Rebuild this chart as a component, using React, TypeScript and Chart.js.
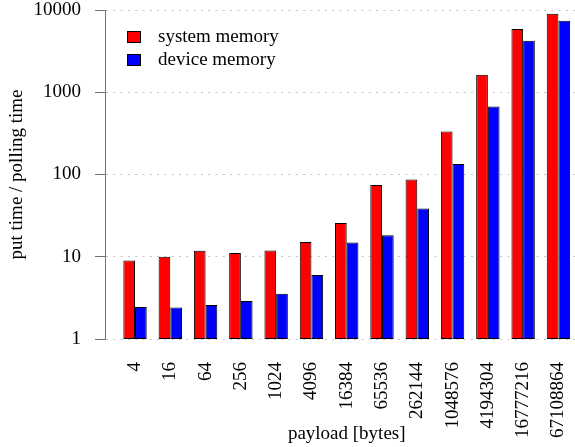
import { useEffect, useRef } from "react";
import { Chart, registerables } from "chart.js";

Chart.register(...registerables);

// Payload sizes on the x axis (one group of bars per size)
const payloadSizes = [
  "4", "16", "64", "256", "1024", "4096", "16384", "65536",
  "262144", "1048576", "4194304", "16777216", "67108864",
];

// Ratio of put time to polling time for each payload size
const systemMemory = [9.0, 10.0, 11.8, 11.1, 11.9, 15.1, 25.7, 74.5, 87, 334, 1634, 5875, 9020];
const deviceMemory = [2.45, 2.42, 2.59, 2.9, 3.55, 6.0, 14.9, 18.2, 38.7, 134, 673, 4233, 7410];

const seriesNames = ["system memory", "device memory"];
const seriesColors = ["#ff0000", "#0000ff"];
const yTickValues = [1, 10, 100, 1000, 10000];
const yTitle = "put time / polling time";
const xTitle = "payload [bytes]";

const FONT = "'Liberation Serif', 'Times New Roman', serif";
const WIDTH = 575;
const HEIGHT = 447;

// Legend box in the upper-left corner of the plot area
const seriesKey = {
  id: "seriesKey",
  afterDraw(chart: any) {
    const { ctx, chartArea } = chart;
    ctx.save();
    ctx.font = `19px ${FONT}`;
    ctx.textBaseline = "middle";
    ctx.textAlign = "left";
    chart.data.datasets.forEach((ds: any, i: number) => {
      const boxX = chartArea.left + 22;
      const boxY = chartArea.top + 21 + i * 23;
      ctx.fillStyle = ds.backgroundColor;
      ctx.fillRect(boxX, boxY, 14, 12);
      ctx.strokeStyle = "#000";
      ctx.lineWidth = 1;
      ctx.strokeRect(boxX + 0.5, boxY + 0.5, 13, 11);
      ctx.fillStyle = "#000";
      ctx.fillText(ds.label, chartArea.left + 53, boxY + 6.5);
    });
    ctx.restore();
  },
};

// X axis title, centred under the middle group of bars
const xAxisTitle = {
  id: "xAxisTitle",
  afterDraw(chart: any) {
    const { ctx } = chart;
    const xScale = chart.scales.x;
    const cx = xScale.getPixelForValue((payloadSizes.length - 1) / 2);
    ctx.save();
    ctx.font = `19px ${FONT}`;
    ctx.fillStyle = "#000";
    ctx.textAlign = "center";
    ctx.textBaseline = "alphabetic";
    ctx.fillText(xTitle, cx, 439);
    ctx.restore();
  },
};

export default function App() {
  const canvasRef = useRef<HTMLCanvasElement | null>(null);

  useEffect(() => {
    const canvas = canvasRef.current;
    if (!canvas) return;

    const series = [systemMemory, deviceMemory];
    const chart = new Chart(canvas, {
      type: "bar",
      data: {
        datasets: series.map((values, s) => ({
          label: seriesNames[s],
          data: values.map((v, i) => ({ x: i, y: v })),
          backgroundColor: seriesColors[s],
          borderColor: "#000",
          borderWidth: 1,
          borderSkipped: false,
          categoryPercentage: 0.663,
          barPercentage: 1,
        })),
      },
      options: {
        responsive: false,
        animation: false,
        devicePixelRatio: 1,
        layout: { padding: { top: 10, right: 0, bottom: 0, left: 0 } },
        plugins: {
          legend: { display: false },
          tooltip: { enabled: false },
        },
        scales: {
          x: {
            type: "linear",
            offset: false,
            min: -0.851,
            max: 12.47,
            afterBuildTicks: (scale: any) => {
              scale.ticks = payloadSizes.map((_, i) => ({ value: i }));
            },
            afterFit: (scale: any) => {
              scale.height = 108;
              scale.paddingLeft = 0;
              scale.paddingRight = 0;
            },
            grid: { display: false, drawTicks: false, offset: false },
            border: { display: false },
            ticks: {
              autoSkip: false,
              minRotation: 90,
              maxRotation: 90,
              padding: 23,
              color: "#000",
              font: { family: FONT, size: 19 },
              callback: (value: any) => payloadSizes[value] ?? "",
            },
          },
          y: {
            type: "logarithmic",
            min: 1,
            max: 10000,
            afterBuildTicks: (scale: any) => {
              scale.ticks = yTickValues.map((v) => ({ value: v }));
            },
            afterFit: (scale: any) => {
              scale.width = 105;
              scale.paddingTop = 0;
              scale.paddingBottom = 0;
            },
            grid: {
              color: "#c4c4c4",
              lineWidth: 1,
              tickColor: "#707070",
              tickLength: 10,
              tickWidth: 1,
            },
            border: { display: true, color: "#707070", width: 1, dash: [2, 5.3] },
            ticks: {
              padding: 14,
              color: "#000",
              font: { family: FONT, size: 19, lineHeight: 1 },
              callback: (value: any) => String(value),
            },
            title: {
              display: true,
              text: yTitle,
              color: "#000",
              font: { family: FONT, size: 19 },
              padding: { top: 6, bottom: 0 },
            },
          },
        },
      },
      plugins: [seriesKey, xAxisTitle],
    } as any);

    return () => chart.destroy();
  }, []);

  return (
    <div style={{ position: "fixed", left: 0, top: 0, width: WIDTH, height: HEIGHT, background: "#fff" }}>
      <canvas ref={canvasRef} width={WIDTH} height={HEIGHT} style={{ display: "block" }} />
    </div>
  );
}
